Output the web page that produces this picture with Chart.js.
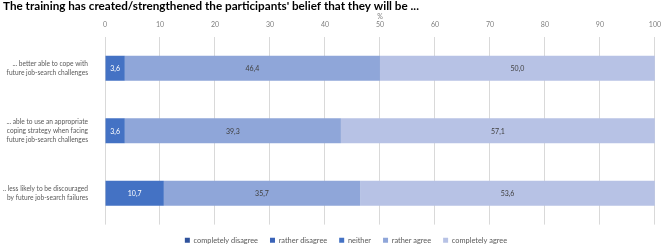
<!DOCTYPE html>
<html>
<head>
<meta charset="utf-8">
<script src="https://cdn.jsdelivr.net/npm/chart.js@4/dist/chart.umd.min.js"></script>
<style>
  html, body { margin: 0; padding: 0; background: #fff; }
  #wrap { width: 669px; height: 245px; }
</style>
</head>
<body>
<div id="wrap"><canvas id="barchart-belief"></canvas></div>
<script>
var categories = [
  ["... better able to cope with", "future job-search challenges"],
  ["... able to use an appropriate", "coping strategy when facing", "future job-search challenges"],
  ["... less likely to be discouraged", "by future job-search failures"]
];
var seriesNames = ["completely disagree", "rather disagree", "neither", "rather agree", "completely agree"];
var completelyDisagree = [0, 0, 0];
var ratherDisagree = [0, 0, 0];
var neither = [3.6, 3.6, 10.7];
var ratherAgree = [46.4, 39.3, 35.7];
var completelyAgree = [50.0, 57.1, 53.6];
var xTicks = [0, 10, 20, 30, 40, 50, 60, 70, 80, 90, 100];

var colors = ["#2f529c", "#3a63b8", "#4472c4", "#8fa6d9", "#b7c2e5"];
var labelColors = ["#ffffff", "#ffffff", "#ffffff", "#404040", "#404040"];
var values = [completelyDisagree, ratherDisagree, neither, ratherAgree, completelyAgree];

// value labels in the middle of each segment
var segmentLabels = {
  id: "segmentLabels",
  afterDatasetsDraw: function (chart) {
    var ctx = chart.ctx;
    ctx.save();
    ctx.font = "7px Lato";
    ctx.textAlign = "center";
    ctx.textBaseline = "middle";
    chart.data.datasets.forEach(function (ds, i) {
      chart.getDatasetMeta(i).data.forEach(function (bar, j) {
        var v = ds.data[j];
        if (!v) return;
        ctx.fillStyle = labelColors[i];
        ctx.fillText(v.toFixed(1).replace(".", ","), (bar.x + bar.base) / 2, bar.y + 0.5);
      });
    });
    ctx.restore();
  }
};

// the legend sits a little right of centre in the original
var legendShift = {
  id: "legendShift",
  afterLayout: function (chart) {
    if (!chart.legend) return;
    chart.legend.left += 11;
    chart.legend.right += 11;
  }
};

var ctx = document.getElementById("barchart-belief").getContext("2d");
var chart = new Chart(ctx, {
  type: "bar",
  data: {
    labels: categories,
    datasets: seriesNames.map(function (name, i) {
      return {
        label: name,
        data: values[i],
        backgroundColor: colors[i],
        borderWidth: 0,
        barPercentage: 0.4,
        categoryPercentage: 1
      };
    })
  },
  plugins: [segmentLabels, legendShift],
  options: {
    indexAxis: "y",
    responsive: true,
    maintainAspectRatio: false,
    animation: false,
    layout: { padding: { left: 3, right: 2, top: 0, bottom: -9 } },
    scales: {
      x: {
        position: "top",
        stacked: true,
        min: 0,
        max: 100,
        afterBuildTicks: function (scale) {
          scale.ticks = xTicks.map(function (v) { return { value: v }; });
        },
        afterFit: function (scale) { scale.height = 23.8; },
        grid: { color: "#d9d9d9", drawTicks: false },
        border: { display: false },
        ticks: { color: "#7f7f7f", font: { family: "Lato", size: 7 }, padding: 8 },
        title: { display: true, text: "%", color: "#7f7f7f", font: { family: "Lato", size: 7, lineHeight: 1 }, padding: 0 }
      },
      y: {
        stacked: true,
        afterFit: function (scale) { scale.width = 102; },
        grid: { display: false },
        border: { display: false },
        ticks: { color: "#595959", font: { family: "Lato", size: 6.6, lineHeight: 1.4 }, padding: 9 }
      }
    },
    plugins: {
      title: {
        display: true,
        text: "The training has created/strengthened the participants' belief that they will be ...",
        align: "start",
        color: "#000000",
        font: { family: "Lato", size: 11.7, weight: "bold", lineHeight: 1.13 },
        padding: { top: 0, bottom: 0 }
      },
      legend: {
        position: "bottom",
        labels: {
          boxWidth: 5,
          boxHeight: 5,
          color: "#595959",
          font: { family: "Lato", size: 7.4 },
          padding: 12
        }
      },
      tooltip: { enabled: false }
    }
  }
});
</script>
</body>
</html>
